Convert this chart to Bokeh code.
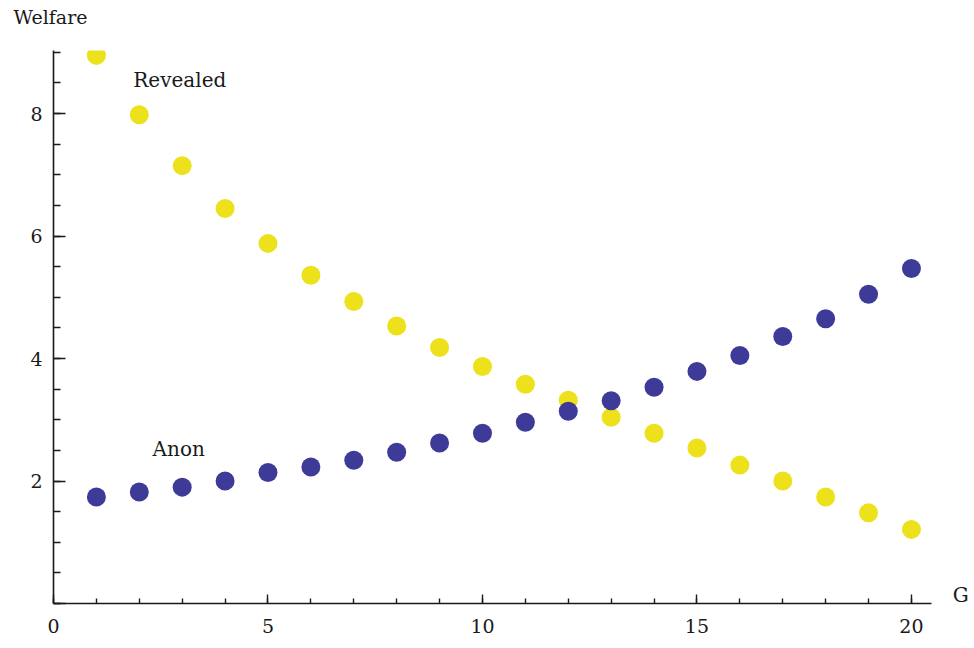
from bokeh.plotting import figure
from bokeh.models import Label, SingleIntervalTicker, Range1d
from bokeh.embed import file_html
from bokeh.resources import INLINE

# Data
g = list(range(1, 21))
revealed = [8.95, 7.98, 7.15, 6.45, 5.88, 5.36, 4.93, 4.53, 4.18, 3.87,
            3.58, 3.32, 3.04, 2.78, 2.54, 2.26, 2.00, 1.74, 1.48, 1.21]
anon = [1.74, 1.82, 1.90, 2.00, 2.14, 2.23, 2.34, 2.47, 2.62, 2.78,
        2.96, 3.14, 3.31, 3.53, 3.79, 4.05, 4.36, 4.65, 5.05, 5.47]
x_ticks_interval = 5
y_ticks_interval = 2

YELLOW = "#ECE11B"
BLUE = "#3E3A98"
FONT = "DejaVu Serif"

p = figure(width=972, height=640, output_backend="svg", toolbar_location=None,
           x_range=Range1d(0, 21.4), y_range=Range1d(0, 9.03),
           min_border_left=53, min_border_right=1, min_border_top=50,
           min_border_bottom=37)
p.outline_line_color = None
p.grid.visible = False
p.background_fill_color = "white"
p.border_fill_color = "white"

p.title.text = "Welfare\n"
p.title.align = "left"
p.title.offset = -40
p.title.text_font = FONT
p.title.text_font_size = "19px"
p.title.text_font_style = "normal"
p.title.text_color = "#1a1a1a"
p.title.standoff = 1

p.scatter(g, revealed, size=19, fill_color=YELLOW, line_color=None)
p.scatter(g, anon, size=19, fill_color=BLUE, line_color=None)

for ax in (p.xaxis[0], p.yaxis[0]):
    ax.axis_line_color = "#1a1a1a"
    ax.axis_line_width = 1.6
    ax.major_tick_line_color = "#1a1a1a"
    ax.minor_tick_line_color = "#1a1a1a"
    ax.major_tick_line_width = 1.4
    ax.minor_tick_line_width = 1.4
    ax.major_tick_out = 0
    ax.minor_tick_out = 0
    ax.major_label_text_font = FONT
    ax.major_label_text_font_size = "19px"
    ax.major_label_text_color = "#1a1a1a"

p.xaxis.ticker = SingleIntervalTicker(interval=x_ticks_interval, num_minor_ticks=5)
p.xaxis.bounds = (0, 20.47)
p.xaxis.major_tick_in = 9
p.xaxis.minor_tick_in = 5
p.xaxis.major_label_standoff = 15

p.yaxis.ticker = SingleIntervalTicker(interval=y_ticks_interval, num_minor_ticks=4)
p.yaxis.major_tick_in = 12
p.yaxis.minor_tick_in = 7
p.yaxis.major_label_standoff = 11
p.yaxis.major_label_overrides = {0: ""}

lab_kw = dict(text_font=FONT, text_font_size="20px", text_color="#1a1a1a",
              text_baseline="middle", text_align="left")
p.add_layout(Label(x=1.86, y=8.55, text="Revealed", **lab_kw))
p.add_layout(Label(x=2.31, y=2.52, text="Anon", **lab_kw))
p.add_layout(Label(x=20.96, y=0.14, text="G", **lab_kw))

open("out.html", "w").write(file_html(p, INLINE))
